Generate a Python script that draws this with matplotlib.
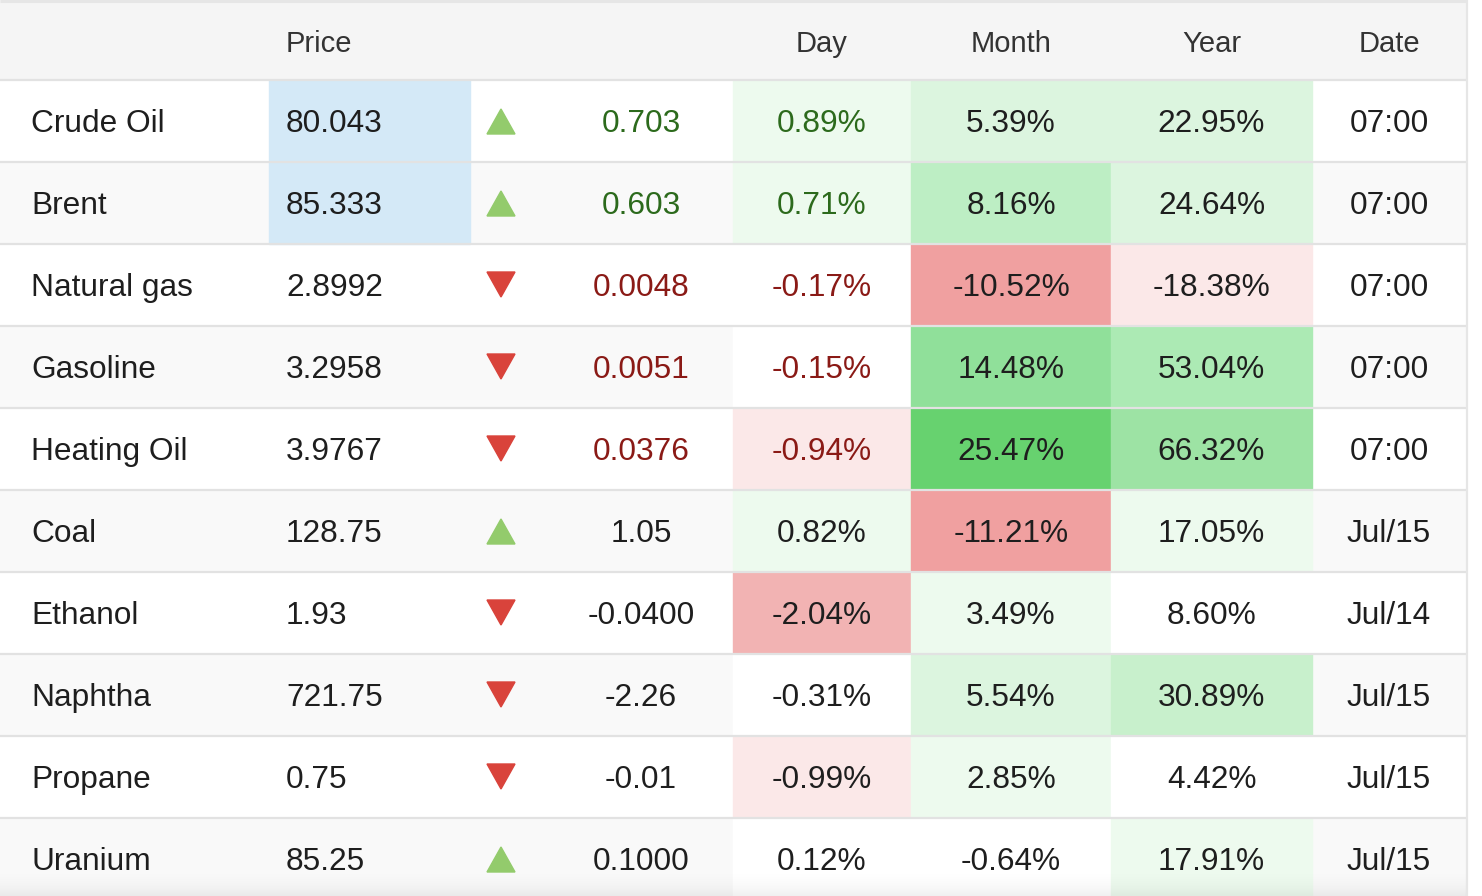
import numpy as np
import matplotlib.pyplot as plt
from matplotlib.colors import ListedColormap, BoundaryNorm
from matplotlib.patches import Rectangle, Polygon

plt.rcParams['font.family'] = ['Liberation Sans', 'DejaVu Sans']

# table data
names = ['Crude Oil', 'Brent', 'Natural gas', 'Gasoline', 'Heating Oil',
         'Coal', 'Ethanol', 'Naphtha', 'Propane', 'Uranium']
price = ['80.043', '85.333', '2.8992', '3.2958', '3.9767',
         '128.75', '1.93', '721.75', '0.75', '85.25']
change = ['0.703', '0.603', '0.0048', '0.0051', '0.0376',
          '1.05', '-0.0400', '-2.26', '-0.01', '0.1000']
day = [0.89, 0.71, -0.17, -0.15, -0.94, 0.82, -2.04, -0.31, -0.99, 0.12]
month = [5.39, 8.16, -10.52, 14.48, 25.47, -11.21, 3.49, 5.54, 2.85, -0.64]
year = [22.95, 24.64, -18.38, 53.04, 66.32, 17.05, 8.60, 30.89, 4.42, 17.91]
dates = ['07:00', '07:00', '07:00', '07:00', '07:00',
         'Jul/15', 'Jul/14', 'Jul/15', 'Jul/15', 'Jul/15']
live = [True, True, True, True, True, False, False, False, False, False]
price_flash = [True, True, False, False, False, False, False, False, False, False]
headers = ['', 'Price', '', '', 'Day', 'Month', 'Year', 'Date']

# layout (pixels)
W, H = 1482, 896
col_edges = [0, 269, 470, 533, 733, 911, 1111, 1312, 1466]
header_h = 80
row_h = 82

# heat scales per column
day_norm = BoundaryNorm([-100, -1.5, -0.5, 0.5, 1.5, 100], 5)
day_cmap = ListedColormap(['#f2b3b3', '#fbe8e8', '#ffffff', '#edfaee', '#dcf5df'])
month_norm = BoundaryNorm([-100, -5, -1, 1, 4.5, 7, 12, 20, 100], 8)
month_cmap = ListedColormap(['#f0a0a0', '#fbe8e8', '#ffffff', '#edfaee',
                             '#dcf5df', '#bdeec4', '#90e09a', '#67d26f'])
year_norm = BoundaryNorm([-100, -10, 10, 20, 28, 40, 60, 100], 7)
year_cmap = ListedColormap(['#fbe8e8', '#ffffff', '#edfaee', '#dcf5df',
                            '#c8f0cc', '#aceab4', '#9de3a4'])

green_txt = '#2c6a1c'
red_txt = '#8a1a16'
black_txt = '#1e1e1e'
fs = 22.8

fig = plt.figure(figsize=(W / 100, H / 100), dpi=100)
ax = fig.add_axes([0, 0, 1, 1])
ax.set_xlim(0, W)
ax.set_ylim(H, 0)
ax.axis('off')

x0, x1 = col_edges[0], col_edges[-1]

# header
ax.add_patch(Rectangle((x0, 0), x1 - x0, header_h, color='#f5f5f5', zorder=0))
hy = header_h / 2 + 4
ax.text(286, hy, headers[1], ha='left', va='center', fontsize=21, color='#333333')
for j in range(4, 8):
    cx = (col_edges[j] + col_edges[j + 1]) / 2
    ax.text(cx, hy, headers[j], ha='center', va='center', fontsize=21, color='#333333')

for i in range(len(names)):
    top = header_h + i * row_h
    cy = top + row_h / 2 + 3
    bg = '#ffffff' if i % 2 == 0 else '#f9f9f9'
    ax.add_patch(Rectangle((x0, top), x1 - x0, row_h, color=bg, zorder=0))

    if price_flash[i]:
        ax.add_patch(Rectangle((col_edges[1], top), col_edges[2] - col_edges[1], row_h,
                               color='#d4e9f7', zorder=1))

    heat = [(day[i], day_cmap, day_norm, 4), (month[i], month_cmap, month_norm, 5),
            (year[i], year_cmap, year_norm, 6)]
    for v, cmap, norm, j in heat:
        ax.add_patch(Rectangle((col_edges[j], top), col_edges[j + 1] - col_edges[j], row_h,
                               color=cmap(norm(v)), zorder=1))

    up = day[i] > 0
    if live[i]:
        tc = green_txt if up else red_txt
    else:
        tc = black_txt

    ax.text(31, cy, names[i], ha='left', va='center', fontsize=fs, color=black_txt, zorder=3)
    ax.text(286, cy, price[i], ha='left', va='center', fontsize=fs, color=black_txt, zorder=3)

    # arrow
    ax_c = 501
    ay = cy - 2
    if up:
        tri = [(ax_c - 14, ay + 12), (ax_c + 14, ay + 12), (ax_c, ay - 13)]
        ax.add_patch(Polygon(tri, closed=True, color='#93cb6c', zorder=3))
    else:
        tri = [(ax_c - 14, ay - 14), (ax_c + 14, ay - 14), (ax_c, ay + 11)]
        ax.add_patch(Polygon(tri, closed=True, color='#d9433b', zorder=3))

    ax.text(641, cy, change[i], ha='center', va='center', fontsize=fs, color=tc, zorder=3)
    ax.text((col_edges[4] + col_edges[5]) / 2, cy, f'{day[i]:.2f}%', ha='center',
            va='center', fontsize=fs, color=tc, zorder=3)
    ax.text((col_edges[5] + col_edges[6]) / 2, cy, f'{month[i]:.2f}%', ha='center',
            va='center', fontsize=fs, color=black_txt, zorder=3)
    ax.text((col_edges[6] + col_edges[7]) / 2, cy, f'{year[i]:.2f}%', ha='center',
            va='center', fontsize=fs, color=black_txt, zorder=3)
    ax.text((col_edges[7] + col_edges[8]) / 2, cy, dates[i], ha='center',
            va='center', fontsize=fs, color=black_txt, zorder=3)

# row separators
for i in range(len(names)):
    y = header_h + i * row_h
    ax.plot([x0, x1], [y, y], color='#e2e2e2', lw=1.6, zorder=2, solid_capstyle='butt')
ax.plot([x0, x1], [1, 1], color='#e6e6e6', lw=2.2, zorder=2, solid_capstyle='butt')
ax.plot([x1 + 1, x1 + 1], [0, H], color='#e6e6e6', lw=1.6, zorder=2)

# soft shadow at the bottom
grad = np.linspace(0, 1, 50).reshape(-1, 1) ** 2
shade = np.ones((50, 1, 4))
shade[..., :3] = 0.0
shade[..., 3] = grad[:, 0:1] * 0.06
ax.imshow(shade, extent=(x0, x1, H, H - 30), aspect='auto', zorder=4,
          interpolation='bilinear')
ax.set_xlim(0, W)
ax.set_ylim(H, 0)

fig.savefig('out.png', dpi=100)
